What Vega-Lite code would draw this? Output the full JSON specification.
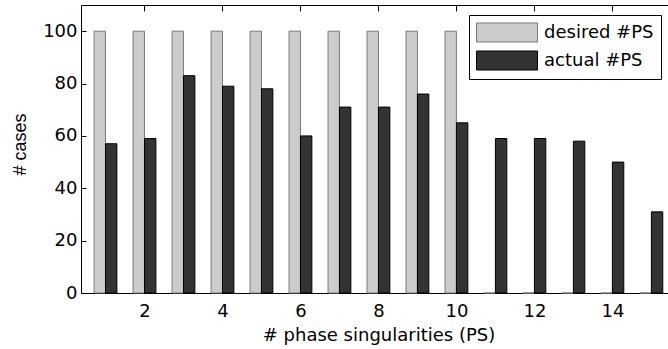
{
  "$schema": "https://vega.github.io/schema/vega-lite/v6.json",
  "width": 587,
  "height": 288,
  "autosize": {"type": "none"},
  "padding": {"left": 81, "top": 5, "right": 0, "bottom": 56},
  "background": "white",
  "config": {
    "view": {"stroke": null},
    "axis": {
      "domainColor": "black",
      "tickColor": "black",
      "labelColor": "black",
      "titleColor": "black",
      "labelFont": "DejaVu Sans",
      "labelFontSize": 18,
      "titleFont": "DejaVu Sans",
      "titleFontSize": 18,
      "titleFontWeight": "normal",
      "grid": false,
      "tickSize": -5,
      "domainWidth": 1,
      "tickWidth": 1
    }
  },
  "data": {
    "values": [
      {"n": 1, "desired": 100, "actual": 57},
      {"n": 2, "desired": 100, "actual": 59},
      {"n": 3, "desired": 100, "actual": 83},
      {"n": 4, "desired": 100, "actual": 79},
      {"n": 5, "desired": 100, "actual": 78},
      {"n": 6, "desired": 100, "actual": 60},
      {"n": 7, "desired": 100, "actual": 71},
      {"n": 8, "desired": 100, "actual": 71},
      {"n": 9, "desired": 100, "actual": 76},
      {"n": 10, "desired": 100, "actual": 65},
      {"n": 11, "desired": 0, "actual": 59},
      {"n": 12, "desired": 0, "actual": 59},
      {"n": 13, "desired": 0, "actual": 58},
      {"n": 14, "desired": 0, "actual": 50},
      {"n": 15, "desired": 0, "actual": 31}
    ]
  },
  "resolve": {"axis": {"x": "independent"}},
  "layer": [
    {
      "mark": {"type": "bar", "width": 11.4, "xOffset": -5.7, "strokeWidth": 1},
      "encoding": {
        "x": {
          "field": "n", "type": "quantitative",
          "scale": {"domain": [0.5, 15.298], "nice": false, "zero": false},
          "axis": {
            "orient": "bottom",
            "values": [2, 4, 6, 8, 10, 12, 14],
            "labelPadding": 14,
            "title": "# phase singularities (PS)",
            "titleX": 297.5,
            "titleY": 47,
            "titleBaseline": "alphabetic",
            "titleAlign": "center"
          }
        },
        "y": {
          "field": "desired", "type": "quantitative",
          "scale": {"domain": [0, 110], "nice": false},
          "axis": {
            "values": [0, 20, 40, 60, 80, 100],
            "labelPadding": 9,
            "title": "# cases",
            "titleFont": "Liberation Sans",
            "titleFontSize": 18,
            "titleAngle": -90,
            "titleX": -56,
            "titleY": 139,
            "titleBaseline": "alphabetic",
            "titleAlign": "center"
          }
        },
        "fill": {
          "datum": "desired #PS",
          "scale": {"domain": ["desired #PS", "actual #PS"], "range": ["#cccccc", "#333333"]},
          "legend": {
            "orient": "none",
            "legendX": 388,
            "legendY": 10,
            "title": null,
            "strokeColor": "black",
            "fillColor": "white",
            "padding": 7,
            "symbolType": "M-1.4,0L-1.4,0M-1,-0.95L5.1,-0.95L5.1,0.95L-1,0.95Z",
            "symbolSize": 400,
            "symbolStrokeWidth": 1,
            "labelFont": "DejaVu Sans",
            "labelFontSize": 18,
            "labelColor": "black",
            "labelOffset": 47,
            "labelLimit": 300,
            "rowPadding": 5
          }
        },
        "stroke": {
          "datum": "desired #PS",
          "scale": {"domain": ["desired #PS", "actual #PS"], "range": ["#7a7a7a", "#000000"]},
          "legend": null
        }
      }
    },
    {
      "mark": {"type": "bar", "width": 11.4, "xOffset": 5.7, "strokeWidth": 1},
      "encoding": {
        "x": {
          "field": "n", "type": "quantitative",
          "axis": {
            "orient": "top",
            "values": [2, 4, 6, 8, 10, 12, 14],
            "labels": false,
            "domain": true,
            "ticks": true,
            "tickSize": -6,
            "title": null
          }
        },
        "y": {"field": "actual", "type": "quantitative"},
        "fill": {"datum": "actual #PS"},
        "stroke": {"datum": "actual #PS"}
      }
    }
  ]
}
